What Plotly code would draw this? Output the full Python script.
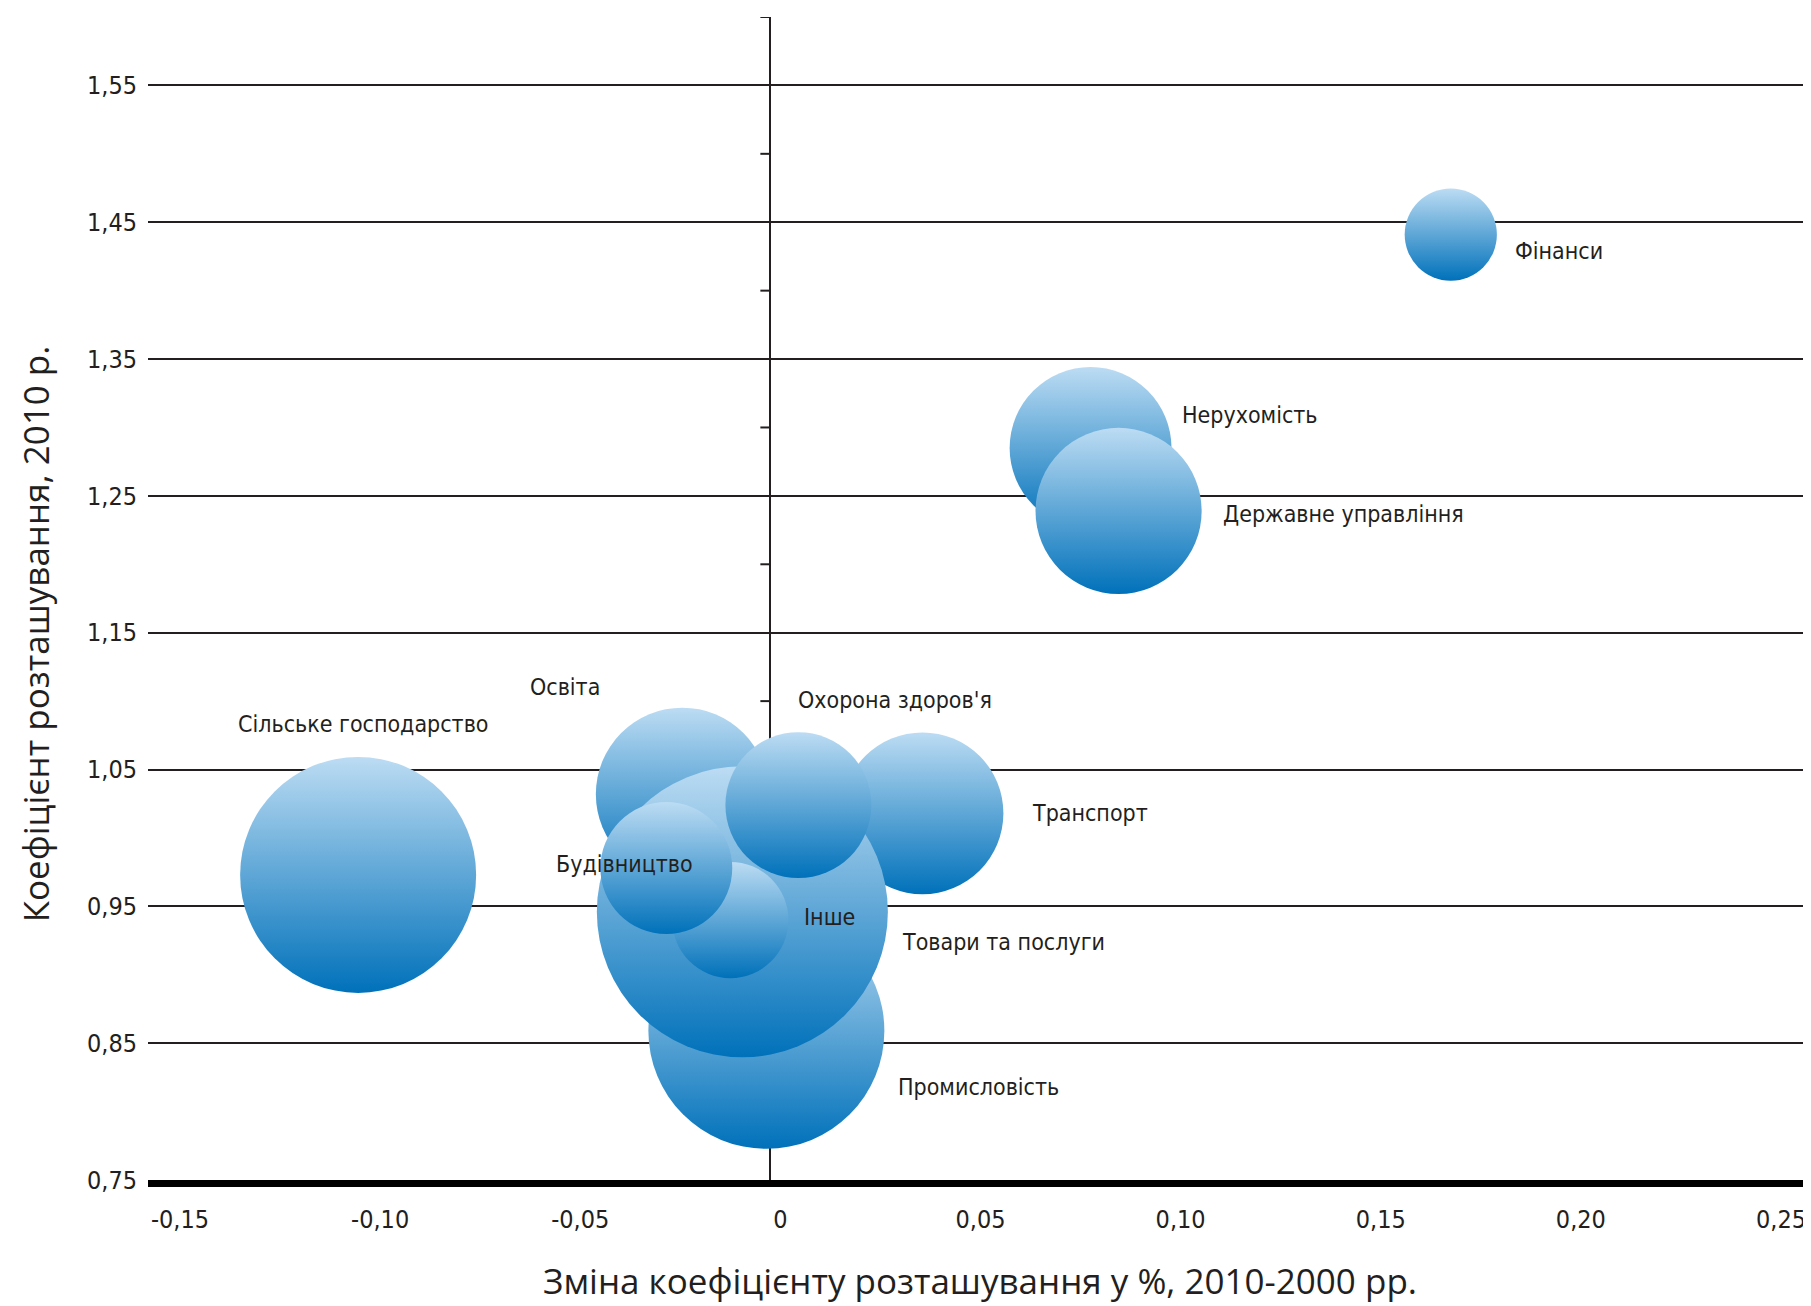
import plotly.graph_objects as go

# sectors, in drawing order (later ones sit on top)
sectors = [
    "Сільське господарство", "Промисловість", "Освіта", "Транспорт",
    "Товари та послуги", "Інше", "Будівництво", "Охорона здоров'я",
    "Нерухомість", "Державне управління", "Фінанси",
]
change_pct = [-0.103, -0.001, -0.022, 0.038, -0.007, -0.010, -0.026, 0.007, 0.080, 0.087, 0.170]
coef_2010 = [0.973, 0.859, 1.032, 1.018, 0.946, 0.940, 0.978, 1.024, 1.285, 1.239, 1.441]
bubble_size = [5.57, 5.57, 2.99, 2.62, 8.47, 1.35, 1.74, 2.13, 2.62, 2.76, 0.85]

x_ticks = [-0.15, -0.10, -0.05, 0, 0.05, 0.10, 0.15, 0.20, 0.25]
x_ticktext = ["-0,15", "-0,10", "-0,05", "0", "0,05", "0,10", "0,15", "0,20", "0,25"]
y_ticks = [0.75, 0.85, 0.95, 1.05, 1.15, 1.25, 1.35, 1.45, 1.55]
y_ticktext = ["0,75", "0,85", "0,95", "1,05", "1,15", "1,25", "1,35", "1,45", "1,55"]
centre_ticks = [0.8, 0.9, 1.0, 1.1, 1.2, 1.3, 1.4, 1.5, 1.6]

# label placement: (x, y, xanchor)
label_pos = {
    "Фінанси": (0.1855, 1.429, "left"),
    "Нерухомість": (0.1024, 1.309, "left"),
    "Державне управління": (0.1125, 1.237, "left"),
    "Сільське господарство": (-0.1016, 1.083, "center"),
    "Освіта": (-0.0514, 1.110, "center"),
    "Охорона здоров'я": (0.0063, 1.101, "left"),
    "Транспорт": (0.0649, 1.018, "left"),
    "Будівництво": (-0.054, 0.981, "left"),
    "Інше": (0.0078, 0.942, "left"),
    "Товари та послуги": (0.0323, 0.924, "left"),
    "Промисловість": (0.0314, 0.818, "left"),
}

INK = "#231f20"
NARROW = "DejaVu Sans Condensed, Roboto, sans-serif"

fig = go.Figure()

fig.add_trace(go.Scatter(
    x=change_pct,
    y=coef_2010,
    mode="markers",
    text=sectors,
    marker=dict(
        size=bubble_size,
        sizemode="area",
        sizeref=2e-4,
        color="#bcdcf3",
        gradient=dict(type="vertical", color="#0071ba"),
        line=dict(width=0),
        opacity=1,
    ),
    hovertemplate="%{text}<br>%{x}<br>%{y}<extra></extra>",
    showlegend=False,
))

for name in sectors:
    lx, ly, anchor = label_pos[name]
    fig.add_annotation(
        x=lx, y=ly, text=name, showarrow=False,
        xanchor=anchor, yanchor="middle",
        font=dict(family=NARROW, size=23, color=INK),
    )

# small ticks on the vertical axis through zero
for v in centre_ticks:
    fig.add_shape(
        type="line", xref="x", yref="y", xsizemode="pixel", xanchor=0,
        x0=-10, x1=0, y0=v, y1=v, layer="between",
        line=dict(color=INK, width=2),
    )

fig.add_annotation(
    xref="paper", yref="paper", x=0.5, y=-0.086,
    text="Зміна коефіцієнту розташування у %, 2010-2000 рр.",
    showarrow=False, xanchor="center", yanchor="middle",
    font=dict(family="Open Sans", size=35, color=INK),
)
fig.add_annotation(
    xref="paper", yref="paper", x=-0.068, y=0.47,
    text="Коефіцієнт розташування, 2010 р.", textangle=-90,
    showarrow=False, xanchor="center", yanchor="middle",
    font=dict(family="Open Sans", size=35, color=INK),
)

# page body adds an 8px margin, so the figure is trimmed by that much
fig.update_layout(
    width=1803,
    height=1298,
    margin=dict(l=140, r=0, t=9, b=126, pad=0),
    paper_bgcolor="white",
    plot_bgcolor="white",
    showlegend=False,
)

fig.update_xaxes(
    range=[-0.1555, 0.26],
    tickvals=x_ticks, ticktext=x_ticktext,
    showgrid=False,
    zeroline=True, zerolinecolor=INK, zerolinewidth=2,
    showline=True, linecolor="black", linewidth=7,
    ticks="", ticklabelshift=10, ticklabelstandoff=11,
    tickfont=dict(family=NARROW, size=25, color=INK),
)
fig.update_yaxes(
    range=[0.75, 1.60],
    tickvals=y_ticks, ticktext=y_ticktext,
    showgrid=True, gridcolor=INK, gridwidth=2,
    zeroline=False, showline=False,
    ticks="", ticklabelstandoff=10,
    tickfont=dict(family=NARROW, size=25, color=INK),
)

fig.write_html("out.html")
